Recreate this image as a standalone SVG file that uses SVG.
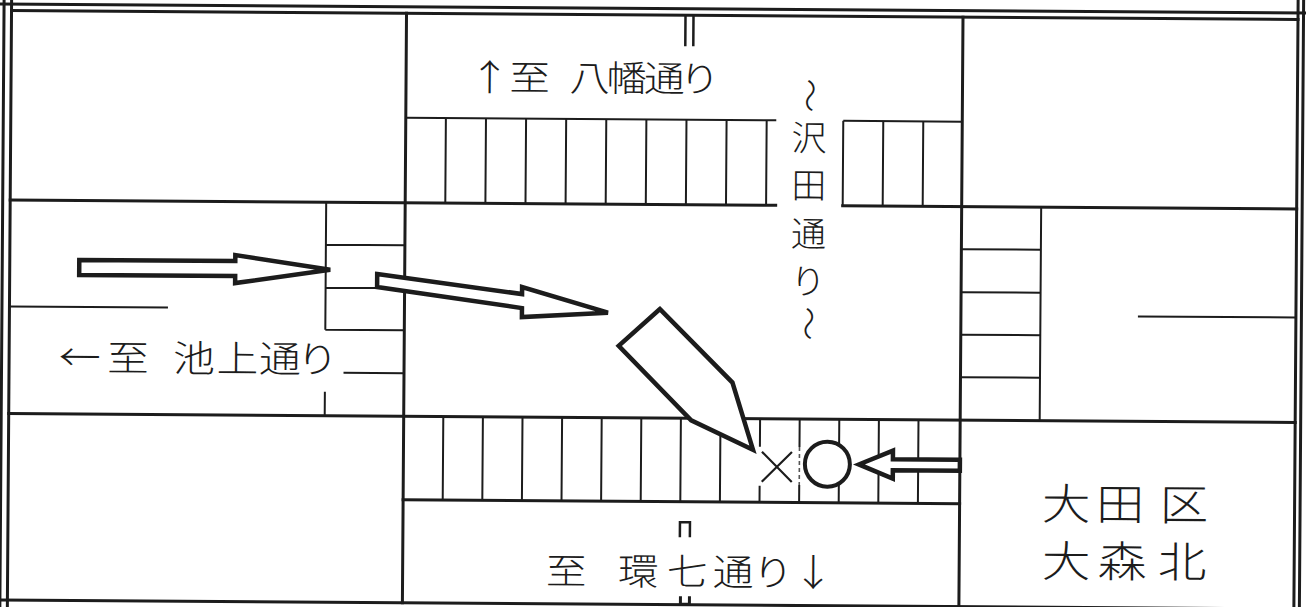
<svg xmlns="http://www.w3.org/2000/svg" width="1306" height="607" viewBox="0 0 1306 607">
<style>
.k{fill:none;stroke:#1c1c1c;stroke-width:3;stroke-linecap:square}
.t{fill:none;stroke:#1c1c1c;stroke-width:2}
.ar{fill:#fff;stroke:#1c1c1c;stroke-width:4.5;stroke-linejoin:miter;stroke-miterlimit:3}
.lb{font-family:"Noto Sans CJK JP","Noto Sans CJK SC",sans-serif;font-weight:300;fill:#1c1c1c;text-anchor:middle}
</style>
<rect width="1306" height="607" fill="#fff"/>
<g transform="rotate(0.4 653 303)">
  <g id="frame" class="k">
    <path d="M2,-8 V620 M9.5,-8 V620 M1296,-8 V620 M1301.5,-8 V620"/>
    <path d="M-5,8.5 H1310 M9.5,15 H1296 M-5,604.5 H1310"/>
  </g>
  <g id="blocks" class="k">
    <path d="M404.5,15 V604.5 M961,15 V604.5"/>
    <path d="M9.5,204.5 H775 M842,204.5 H1296"/>
    <path d="M9.5,418 H1296"/>
    <path d="M404.5,501.5 H961"/>
  </g>
  <g id="crosswalk-north" class="t">
    <path d="M404.5,119.5 H775 M842,119.5 H961"/>
    <path d="M444.6,119.5V204.5 M484.7,119.5V204.5 M524.8,119.5V204.5 M564.9,119.5V204.5 M605,119.5V204.5 M645.1,119.5V204.5 M685.2,119.5V204.5 M725.3,119.5V204.5 M765.4,119.5V204.5 M842,119.5V204.5 M882,119.5V204.5 M922,119.5V204.5"/>
  </g>
  <g id="crosswalk-west" class="t">
    <path d="M325.5,204.5 V332 M325.5,247 H404.5 M325.5,290 H377 M325.5,332 H404.5 M344,375 H404.5 M325.5,394 V418"/>
  </g>
  <g id="crosswalk-east" class="t">
    <path d="M1040.5,204.5 V418 M961,247 H1040.5 M961,290 H1040.5 M961,332.5 H1040.5 M961,375 H1040.5"/>
  </g>
  <g id="crosswalk-south" class="t">
    <path d="M444.1,418V501.5 M483.7,418V501.5 M523.3,418V501.5 M562.9,418V501.5 M602.5,418V501.5 M642.1,418V501.5 M681.7,418V501.5 M721.3,418V501.5 M760.9,418V446 M760.9,485V501.5 M800.5,418V446 M800.5,484V501.5 M840.1,418V501.5 M879.7,418V501.5 M919.3,418V501.5"/>
    <path d="M800.5,446V484" stroke-dasharray="4 3" stroke-width="1.6" stroke="#555"/>
  </g>
  <g id="road-marks" class="t">
    <path d="M9.5,311 H168 M1138,313 H1296"/>
    <path d="M683.5,15 V46 M691.5,15 V46" stroke-width="2.5"/>
    <path d="M681.5,537 V522 H691.5 V537" stroke-width="2.5"/>
    <path d="M682.5,596 V604 H691.5 V596" stroke-width="3"/>
  </g>
  <g id="arrow-west-1">
    <path class="ar" d="M79,264 H235 V258 L330,272 L235,286 V279 H79 Z"/>
  </g>
  <g id="arrow-west-2">
    <path class="ar" d="M377,276 L522,295 V288 L608,313 L522,318 V309 L377,289 Z"/>
  </g>
  <g id="vehicle">
    <path class="ar" stroke-width="8.5" stroke-miterlimit="10" d="M660,309 L619,346 L692,420 L754,449 L733,382 Z"/>
  </g>
  <g id="cross-mark">
    <path d="M763,451 L793,481 M793,451 L763,481" fill="none" stroke="#1c1c1c" stroke-width="2.2"/>
  </g>
  <g id="circle-mark">
    <circle cx="828.5" cy="463" r="22.5" fill="#fff" stroke="#1c1c1c" stroke-width="4"/>
  </g>
  <g id="arrow-east">
    <path class="ar" d="M961,457.5 H894 V449 L860,463 L894,477 V468.5 H961 Z"/>
  </g>
  <g id="labels">
    <text class="lb" font-size="36" transform="scale(1.13 1)" x="431.9 467.3 494 520.4 553.1 586.7 617.7" y="91.5">↑至 八幡通り</text>
    <text class="lb" font-size="37" transform="scale(1.13 1)" x="71 113.7 143 172.1 210.6 248.2 281.4" y="375">←至 池上通り</text>
    <text class="lb" font-size="37" transform="scale(1.1 1)" x="516.4 549 581.8 626.4 668.2 704.5 740.9" y="585">至 環七通り↓</text>
    <text class="lb" font-size="35" x="808" y="149.5">沢</text>
    <text class="lb" font-size="35" x="808" y="197">田</text>
    <text class="lb" font-size="35" x="808" y="245.5">通</text>
    <text class="lb" font-size="35" x="808" y="293">り</text>
    <text class="lb" font-size="34" transform="translate(808 94.5) rotate(90)" y="12">〜</text>
    <text class="lb" font-size="34" transform="translate(808 322.5) rotate(90)" y="12">〜</text>
    <text class="lb" font-size="43" transform="scale(1.13 1)" x="944.7 992.5 1049.1" y="516.7">大田区</text>
    <text class="lb" font-size="43" transform="scale(1.13 1)" x="945.1 994.7 1047.8" y="574">大森北</text>
  </g>
</g>
</svg>
